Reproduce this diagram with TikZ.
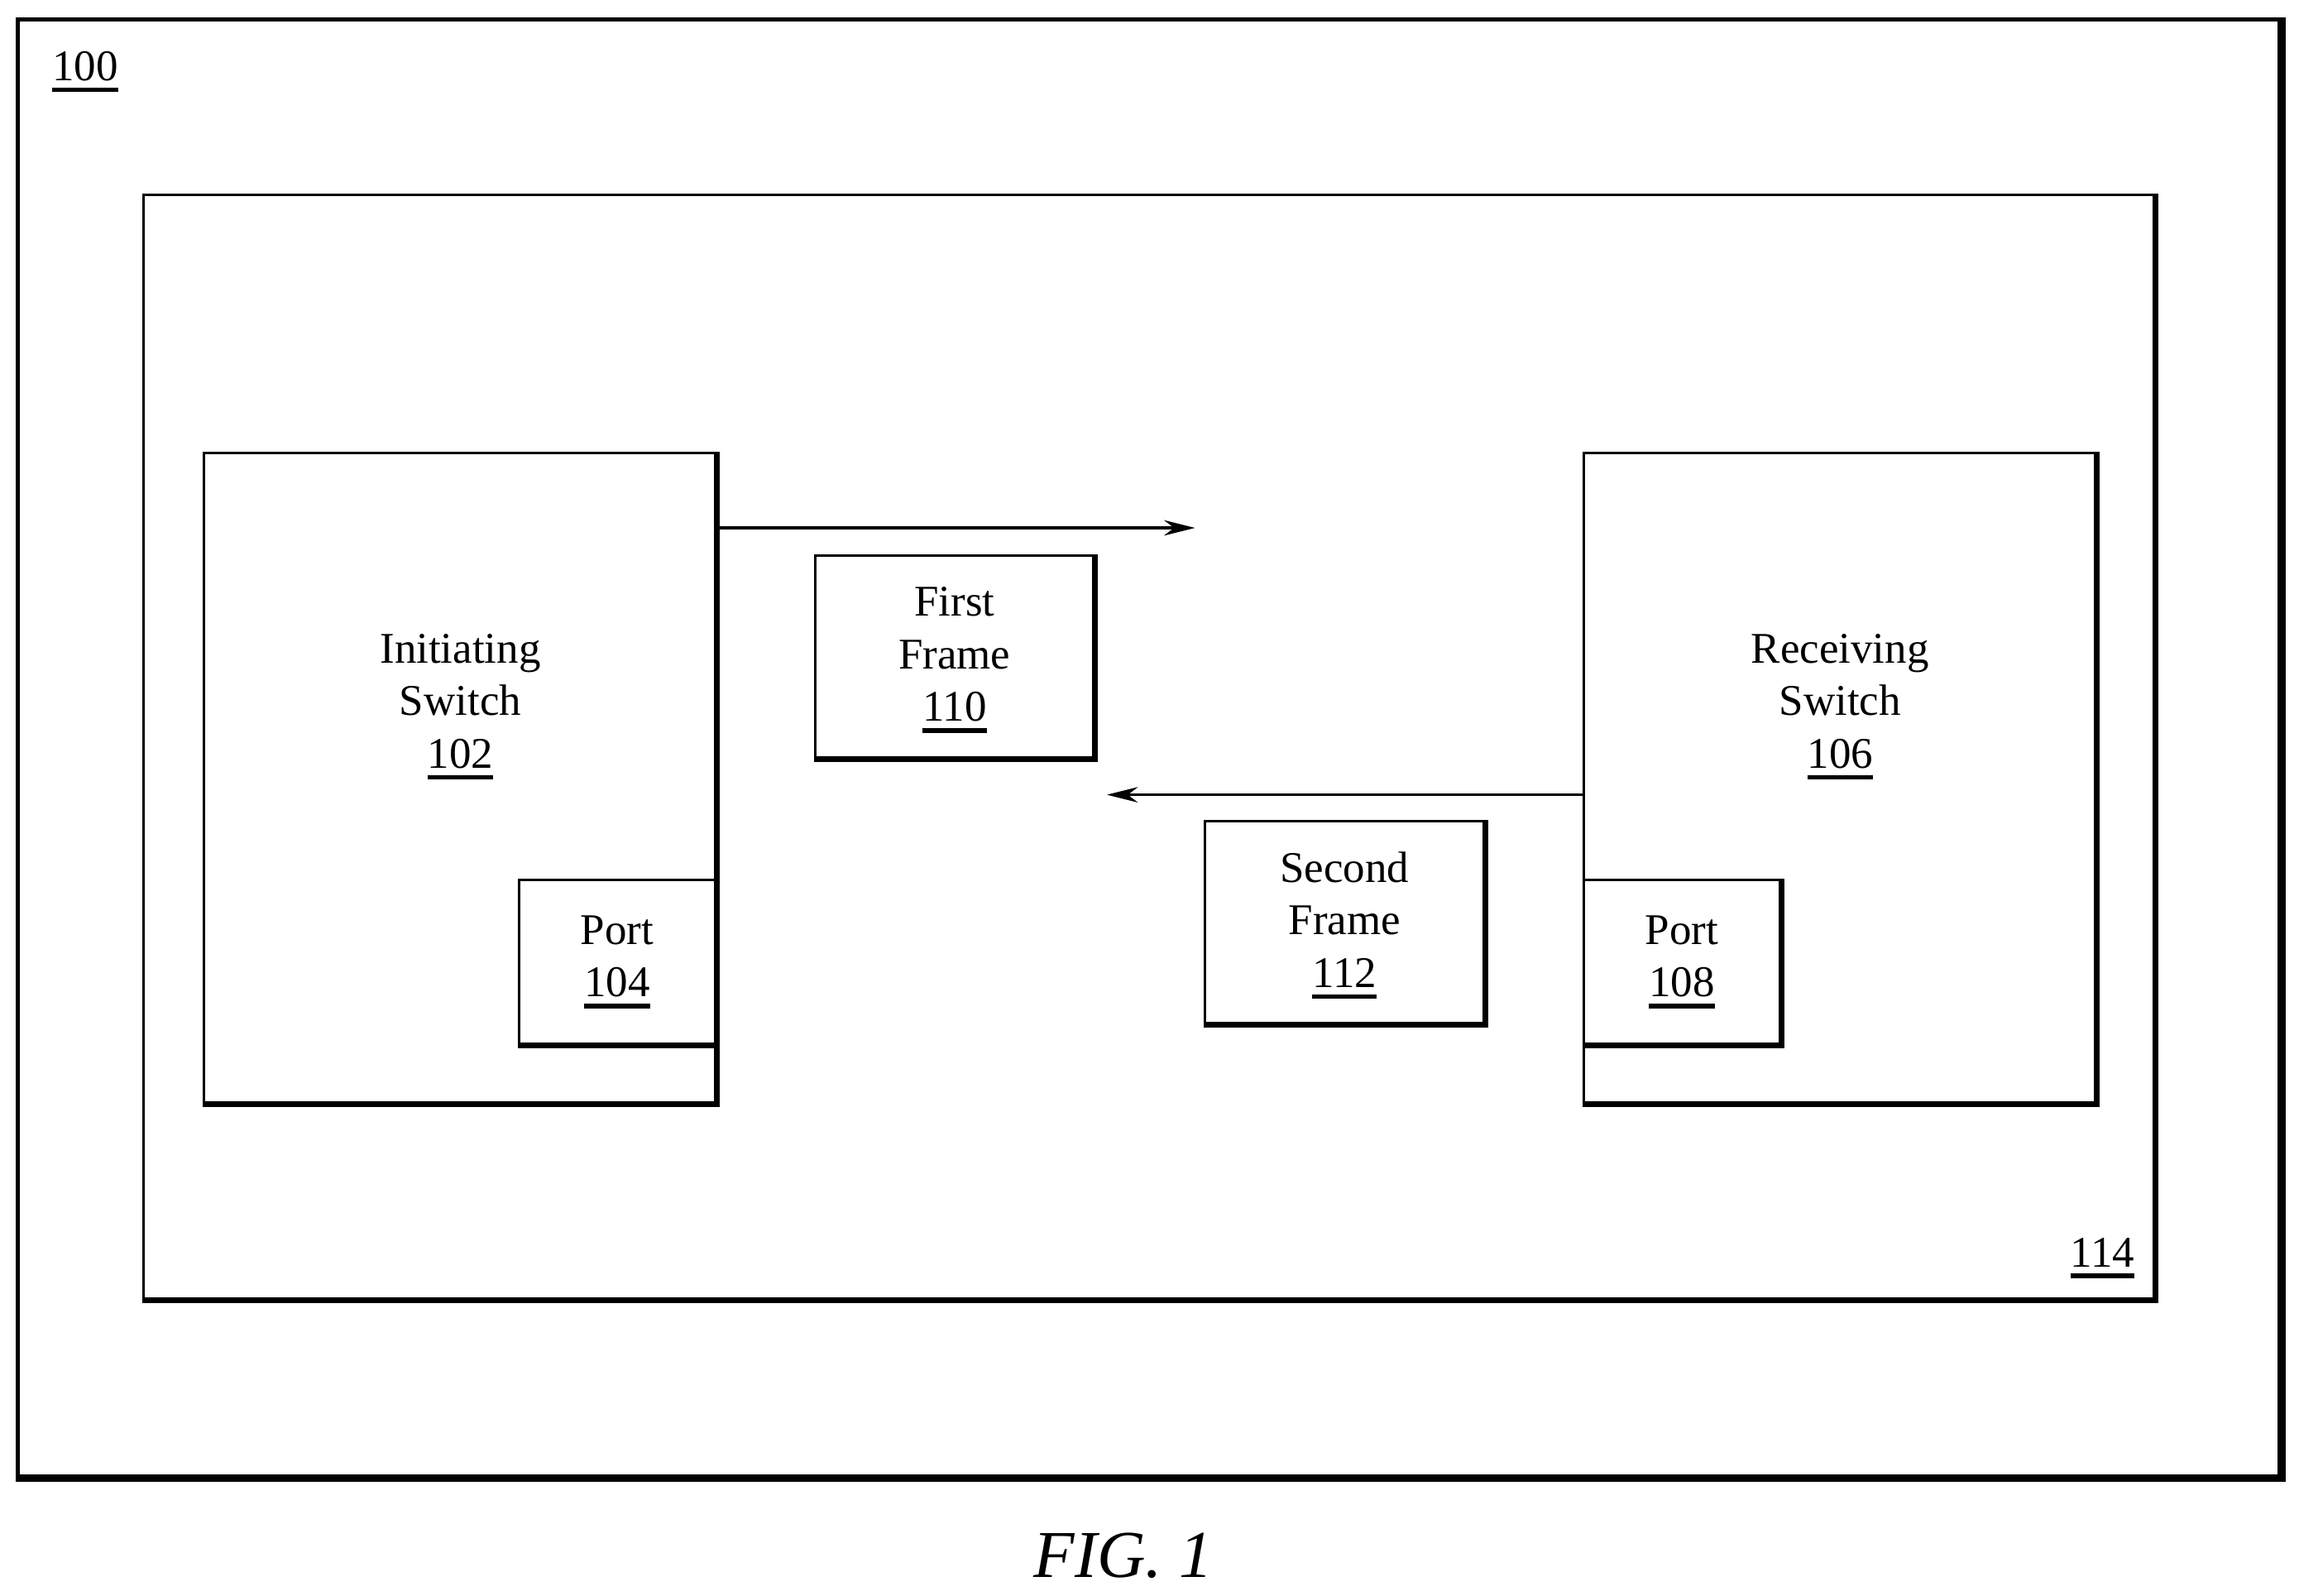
\documentclass[tikz,border=0pt]{standalone}
\usepackage{fontspec}
\setmainfont{Liberation Serif}
\usetikzlibrary{arrows.meta}
\newcommand{\myul}[1]{\underline{#1}\kern-\wd0}
\newcommand{\uln}[1]{\setbox0\hbox{#1}\leavevmode\rlap{\raisebox{-2.2pt}{\rule{\wd0}{0.9pt}}}\box0}
\begin{document}
\begin{tikzpicture}[x=0.01cm,y=-0.01cm,
  box/.style={draw,line width=0.5pt,inner sep=0pt},
  lbl/.style={font=\fontsize{8.5}{10.2}\selectfont,align=center,inner sep=0pt},
  arr/.style={line width=0.5pt,-{Stealth[length=6pt,width=3pt]}}]
\useasboundingbox (0,0) rectangle (1568,1088);
% outer
\node[box,line width=0.8pt,minimum width=1543*0.01cm,minimum height=994*0.01cm] (outer) at (783.5,510) {};
\draw[line width=1.3pt] (outer.north east)--(outer.south east)--(outer.south west);
\node[lbl] (l100) at (58,49) {\uln{100}};
% inner
\node[box,minimum width=1371*0.01cm,minimum height=753*0.01cm] (inner) at (783.5,509.5) {};
\draw[line width=1.1pt] (inner.north east)--(inner.south east)--(inner.south west);
\node[lbl] (l114) at (1434,858) {\uln{114}};
% initiating switch
\node[box,minimum width=349*0.01cm,minimum height=443*0.01cm] (sw1) at (313.5,530.5) {};
\draw[line width=1.1pt] (sw1.north east)--(sw1.south east)--(sw1.south west);
\node[lbl] (t102) at (314,482) {Initiating\\Switch\\\uln{102}};
\node[box,minimum width=134*0.01cm,minimum height=112*0.01cm] (p104) at (421,656) {};
\draw[line width=1.1pt] (p104.north east)--(p104.south east)--(p104.south west);
\node[lbl] (t104) at (421,656) {Port\\\uln{104}};
% receiving switch
\node[box,minimum width=349*0.01cm,minimum height=443*0.01cm] (sw2) at (1254.5,530.5) {};
\draw[line width=1.1pt] (sw2.north east)--(sw2.south east)--(sw2.south west);
\node[lbl] (t106) at (1255,482) {Receiving\\Switch\\\uln{106}};
\node[box,minimum width=134*0.01cm,minimum height=112*0.01cm] (p108) at (1147,656) {};
\draw[line width=1.1pt] (p108.north east)--(p108.south east)--(p108.south west);
\node[lbl] (t108) at (1147,656) {Port\\\uln{108}};
% frames
\node[box,minimum width=190*0.01cm,minimum height=138*0.01cm] (f1) at (651,448) {};
\draw[line width=1.1pt] (f1.north east)--(f1.south east)--(f1.south west);
\node[lbl] (t110) at (651,450) {First\\Frame\\\uln{110}};
\node[box,minimum width=190*0.01cm,minimum height=138*0.01cm] (f2) at (917,629) {};
\draw[line width=1.1pt] (f2.north east)--(f2.south east)--(f2.south west);
\node[lbl] (t112) at (917,631) {Second\\Frame\\\uln{112}};
% arrows
\coordinate (a1) at (815,360);
\coordinate (a2) at (755,542);
\draw[arr] (sw1.east |- a1) -- (a1);
\draw[arr] (sw2.west |- a2) -- (a2);
\node[font=\itshape\fontsize{13}{15}\selectfont,inner sep=0pt] (fig) at (766,1061) {FIG. 1};
\end{tikzpicture}
\end{document}
